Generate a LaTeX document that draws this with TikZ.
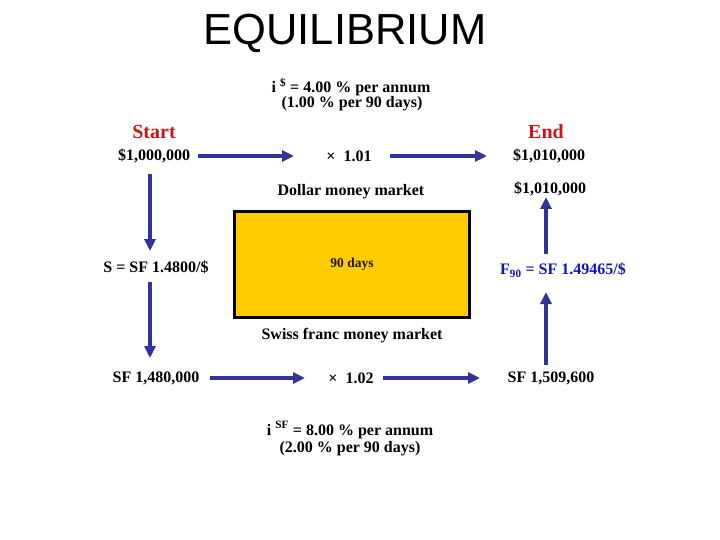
\documentclass[tikz,border=0pt]{standalone}
\usepackage{fontspec}
\setmainfont{Liberation Serif}
\newfontfamily\titlefont{Liberation Sans}
\usetikzlibrary{arrows.meta}
\definecolor{arrowblue}{RGB}{51,51,153}
\definecolor{startred}{RGB}{204,20,20}
\definecolor{fblue}{RGB}{20,20,190}
\definecolor{boxyellow}{RGB}{255,204,0}
\tikzset{
  lbl/.style={font=\bfseries\fontsize{16}{18}\selectfont, inner sep=0pt, anchor=center},
  head/.style={font=\bfseries\fontsize{20}{22}\selectfont, text=startred, inner sep=0pt},
  arr/.style={draw=arrowblue, line width=4pt, -{Triangle[length=12pt,width=11pt]}},
  mktbox/.style={draw=black, line width=3pt, fill=boxyellow, minimum width=235pt, minimum height=106pt,
    font=\bfseries\fontsize{13.5}{15}\selectfont, text=black!85!brown, inner sep=0pt}
}
\begin{document}
\begin{tikzpicture}[x=1pt,y=-1pt]
\useasboundingbox[fill=white] (0,0) rectangle (720,540);
% title
\node[font=\titlefont\fontsize{43.5}{46}\selectfont, inner sep=0pt] (title) at (345,33) {EQUILIBRIUM};
% top rate text
\node[lbl] (irate1) at (351,87) {i \textsuperscript{\$} = 4.00 \% per annum};
\node[lbl] (irate2) at (352,104) {(1.00 \% per 90 days)};
\node[head] (start) at (154,132) {Start};
\node[head] (end) at (546,132) {End};
% row 1
\node[lbl] (a) at (154,156) {\$1,000,000};
\node[lbl] (m1) at (349,156) {×\ \ 1.01};
\node[lbl] (b) at (549,156) {\$1,010,000};
\node[lbl] (dmm) at (351,192) {Dollar money market};
\node[lbl] (b2) at (550,189) {\$1,010,000};
% middle
\node[lbl] (s) at (156,267) {S = SF 1.4800/\$};
\node[mktbox] (box) at (352,264.5) {90 days};
\node[lbl, text=fblue] (f) at (563,270) {F\textsubscript{90} = SF 1.49465/\$};
\node[lbl] (sfmm) at (352,336) {Swiss franc money market};
% row 3
\node[lbl] (c) at (156,378) {SF 1,480,000};
\node[lbl] (m2) at (351,378) {×\ \ 1.02};
\node[lbl] (d) at (551,378) {SF 1,509,600};
% bottom rate text
\node[lbl] (irate3) at (350,430) {i \textsuperscript{SF} = 8.00 \% per annum};
\node[lbl] (irate4) at (350,449) {(2.00 \% per 90 days)};
% column coordinates
\coordinate (colL) at (150,0);
\coordinate (colR) at (546,0);
% horizontal arrows
\draw[arr, shorten <=44pt, shorten >=55pt] (a.center) -- (m1.center);
\draw[arr, shorten <=41pt, shorten >=62pt] (m1.center) -- (b.center);
\draw[arr, shorten <=54pt, shorten >=46pt] (c.center) -- (m2.center);
\draw[arr, shorten <=32pt, shorten >=71pt] (m2.center) -- (d.center);
% vertical arrows
\draw[arr, shorten <=18pt, shorten >=16pt] (colL |- a.center) -- (colL |- s.center);
\draw[arr, shorten <=15pt, shorten >=20pt] (colL |- s.center) -- (colL |- c.center);
\draw[arr, shorten <=13pt, shorten >=22pt] (colR |- d.center) -- (colR |- f.center);
\draw[arr, shorten <=16pt, shorten >=8pt] (colR |- f.center) -- (colR |- b2.center);
\end{tikzpicture}
\end{document}
